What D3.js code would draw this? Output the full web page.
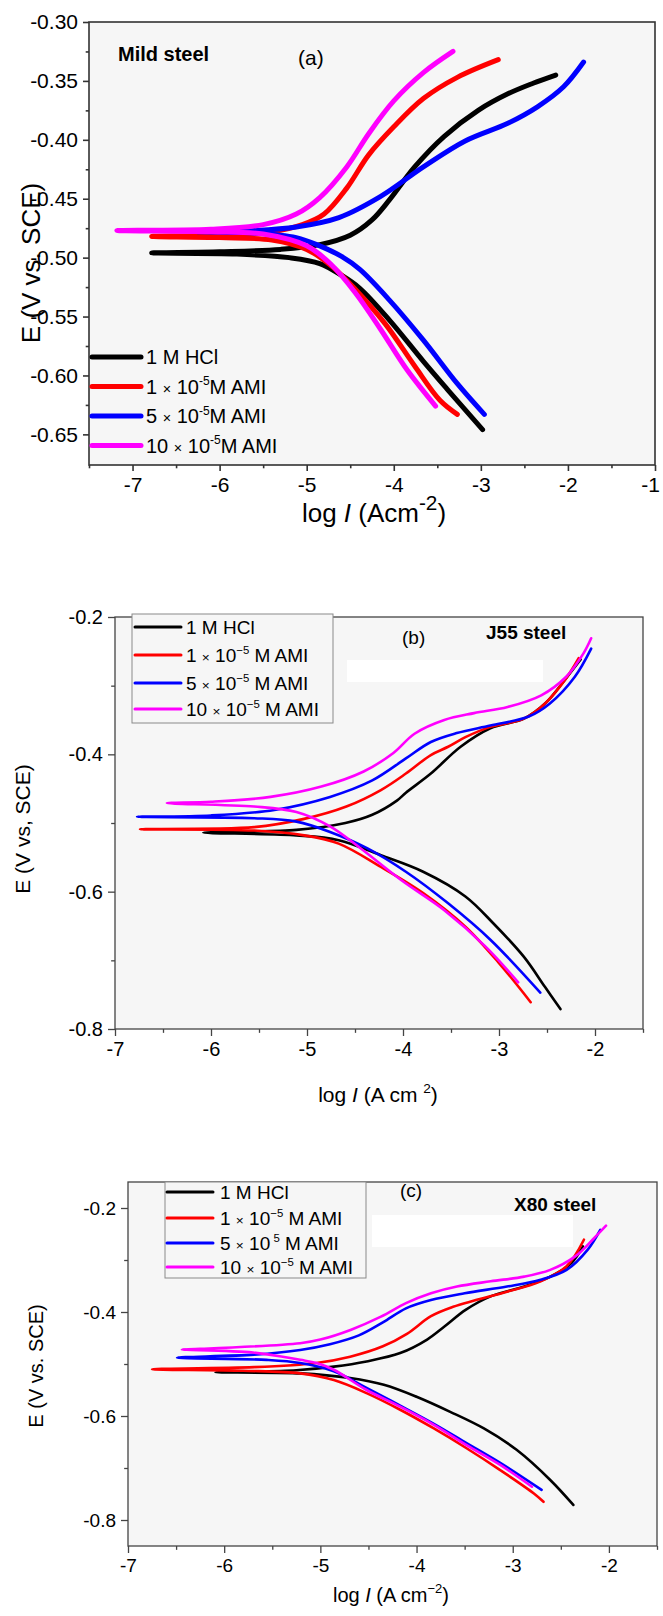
<!DOCTYPE html>
<html><head><meta charset="utf-8">
<script src="https://cdn.jsdelivr.net/npm/d3@7"></script>
<style>body{margin:0;background:#fff;} text{font-family:"Liberation Sans",Arial,sans-serif;fill:#000;}</style>
</head><body><svg id="chart" width="663" height="1616"></svg>
<script>
// ---------- data ----------
const seriesColors = ["#000000", "#ff0000", "#0000ff", "#ff00ff"];
// legend entries: [prefix, exponent, suffix] (null exponent = plain)
const legendA = [["1 M HCl", null, ""], ["1", "-5", "M AMI"], ["5", "-5", "M AMI"], ["10", "-5", "M AMI"]];
const legendB = [["1 M HCl", null, ""], ["1", "\u22125", "\u00a0M AMI"], ["5", "\u22125", "\u00a0M AMI"], ["10", "\u22125", "\u00a0M AMI"]];
const legendC = [["1 M HCl", null, ""], ["1", "\u22125", "\u00a0M AMI"], ["5", "\u00a05", "\u00a0M AMI"], ["10", "\u22125", "\u00a0M AMI"]];

// panel (a) Mild steel: points [log I, E] from cathodic end -> Ecorr -> anodic end
const a_HCl = [[-2.98,-0.646],[-3.37,-0.613],[-3.66,-0.588],[-4.05,-0.553],[-4.39,-0.526],[-4.6,-0.515],[-4.85,-0.505],[-5.2,-0.500],[-5.8,-0.497],[-6.78,-0.496],[-6.0,-0.495],[-5.3,-0.493],[-4.85,-0.489],[-4.5,-0.481],[-4.25,-0.468],[-4.05,-0.451],[-3.76,-0.423],[-3.42,-0.397],[-3.03,-0.375],[-2.69,-0.361],[-2.4,-0.352],[-2.14,-0.345]];
const a_AMI1 = [[-3.27,-0.633],[-3.47,-0.621],[-3.76,-0.592],[-4.10,-0.556],[-4.44,-0.527],[-4.70,-0.508],[-5.0,-0.493],[-5.4,-0.485],[-6.0,-0.483],[-6.78,-0.482],[-6.0,-0.481],[-5.4,-0.478],[-5.05,-0.472],[-4.8,-0.463],[-4.54,-0.441],[-4.29,-0.413],[-4.0,-0.389],[-3.66,-0.365],[-3.27,-0.347],[-2.8,-0.332]];
const a_AMI5 = [[-2.96,-0.633],[-3.27,-0.607],[-3.66,-0.570],[-4.05,-0.536],[-4.39,-0.510],[-4.6,-0.499],[-4.85,-0.490],[-5.12,-0.483],[-5.6,-0.479],[-6.25,-0.478],[-5.6,-0.477],[-5.12,-0.474],[-4.63,-0.466],[-4.15,-0.448],[-3.66,-0.423],[-3.18,-0.401],[-2.69,-0.386],[-2.35,-0.372],[-2.05,-0.355],[-1.82,-0.334]];
const a_AMI10 = [[-3.52,-0.626],[-3.85,-0.595],[-4.15,-0.561],[-4.44,-0.530],[-4.73,-0.505],[-5.0,-0.490],[-5.5,-0.480],[-6.1,-0.478],[-7.18,-0.477],[-6.1,-0.476],[-5.5,-0.472],[-5.12,-0.463],[-4.85,-0.449],[-4.54,-0.423],[-4.29,-0.395],[-4.0,-0.367],[-3.66,-0.343],[-3.32,-0.325]];

// panel (b) J55 steel
const b_HCl = [[-2.36,-0.771],[-2.52,-0.739],[-2.74,-0.695],[-3.06,-0.646],[-3.35,-0.607],[-3.79,-0.571],[-4.23,-0.547],[-4.67,-0.525],[-5.11,-0.518],[-6.08,-0.514],[-5.11,-0.510],[-4.6,-0.500],[-4.32,-0.488],[-4.06,-0.467],[-3.97,-0.456],[-3.71,-0.428],[-3.40,-0.389],[-3.09,-0.362],[-2.74,-0.348],[-2.52,-0.326],[-2.30,-0.289],[-2.15,-0.262]];
const b_AMI1 = [[-2.67,-0.761],[-3.0,-0.704],[-3.35,-0.651],[-3.79,-0.602],[-4.23,-0.564],[-4.67,-0.530],[-5.03,-0.518],[-5.55,-0.511],[-6.74,-0.509],[-5.55,-0.506],[-5.03,-0.494],[-4.59,-0.476],[-4.23,-0.452],[-3.97,-0.428],[-3.71,-0.401],[-3.53,-0.389],[-3.35,-0.375],[-3.09,-0.360],[-2.74,-0.348],[-2.52,-0.326],[-2.30,-0.289],[-2.17,-0.260]];
const b_AMI5 = [[-2.57,-0.747],[-3.09,-0.670],[-3.53,-0.617],[-3.97,-0.571],[-4.37,-0.537],[-4.76,-0.513],[-5.11,-0.498],[-5.55,-0.493],[-6.77,-0.491],[-6.0,-0.489],[-5.34,-0.481],[-4.76,-0.462],[-4.32,-0.438],[-3.97,-0.406],[-3.71,-0.382],[-3.44,-0.369],[-3.09,-0.358],[-2.69,-0.345],[-2.47,-0.326],[-2.21,-0.287],[-2.04,-0.246]];
const b_AMI10 = [[-2.80,-0.732],[-3.14,-0.680],[-3.57,-0.627],[-4.02,-0.583],[-4.46,-0.535],[-4.76,-0.505],[-5.11,-0.484],[-5.55,-0.476],[-6.46,-0.471],[-6.0,-0.469],[-5.38,-0.462],[-4.85,-0.447],[-4.41,-0.425],[-4.10,-0.398],[-3.88,-0.370],[-3.57,-0.350],[-3.26,-0.340],[-2.91,-0.331],[-2.56,-0.314],[-2.30,-0.287],[-2.12,-0.253],[-2.04,-0.231]];

// panel (c) X80 steel
const c_HCl = [[-2.37,-0.771],[-2.61,-0.723],[-2.96,-0.665],[-3.30,-0.624],[-3.65,-0.592],[-4.0,-0.563],[-4.34,-0.540],[-4.69,-0.527],[-5.21,-0.518],[-6.09,-0.516],[-5.25,-0.512],[-4.86,-0.505],[-4.52,-0.495],[-4.17,-0.479],[-3.89,-0.453],[-3.71,-0.428],[-3.49,-0.396],[-3.23,-0.370],[-2.88,-0.351],[-2.61,-0.332],[-2.39,-0.306],[-2.27,-0.274]];
const c_AMI1 = [[-2.68,-0.765],[-2.78,-0.749],[-3.13,-0.704],[-3.48,-0.662],[-3.82,-0.624],[-4.17,-0.588],[-4.52,-0.556],[-4.86,-0.531],[-5.21,-0.518],[-5.8,-0.513],[-6.75,-0.510],[-5.69,-0.506],[-5.04,-0.498],[-4.69,-0.486],[-4.35,-0.466],[-4.10,-0.442],[-3.85,-0.408],[-3.62,-0.390],[-3.40,-0.378],[-3.06,-0.361],[-2.71,-0.341],[-2.44,-0.312],[-2.26,-0.261]];
const c_AMI5 = [[-2.70,-0.742],[-3.13,-0.690],[-3.48,-0.652],[-3.82,-0.615],[-4.17,-0.580],[-4.52,-0.546],[-4.86,-0.514],[-5.21,-0.498],[-5.56,-0.492],[-6.49,-0.488],[-5.69,-0.482],[-5.21,-0.473],[-4.9,-0.462],[-4.6,-0.445],[-4.35,-0.420],[-4.11,-0.393],[-3.85,-0.377],[-3.50,-0.364],[-3.06,-0.351],[-2.71,-0.338],[-2.44,-0.319],[-2.22,-0.280],[-2.09,-0.242]];
const c_AMI10 = [[-2.80,-0.736],[-3.13,-0.694],[-3.48,-0.656],[-3.82,-0.617],[-4.17,-0.582],[-4.52,-0.550],[-4.86,-0.511],[-5.04,-0.498],[-5.21,-0.492],[-5.7,-0.478],[-6.44,-0.472],[-6.25,-0.471],[-5.21,-0.460],[-5.0,-0.453],[-4.68,-0.434],[-4.37,-0.409],[-4.11,-0.383],[-3.85,-0.364],[-3.58,-0.351],[-3.23,-0.341],[-2.88,-0.332],[-2.61,-0.319],[-2.35,-0.293],[-2.17,-0.261],[-2.03,-0.234]];

// tick values
const aXTicks = [-7, -6, -5, -4, -3, -2, -1];
const aXMinor = [-7.5, -6.5, -5.5, -4.5, -3.5, -2.5, -1.5];
const aYTicks = [-0.65, -0.60, -0.55, -0.50, -0.45, -0.40, -0.35, -0.30];
const aYMinor = [-0.625, -0.575, -0.525, -0.475, -0.425, -0.375, -0.325];
const bcXTicks = [-7, -6, -5, -4, -3, -2];
const bcXMinor = [-6.5, -5.5, -4.5, -3.5, -2.5, -1.5];
const bcYTicks = [-0.8, -0.6, -0.4, -0.2];
const bcYMinor = [-0.7, -0.5, -0.3];

// ---------- drawing ----------
const svg = d3.select("#chart");

function panel(cfg) {
  const g = svg.append("g");
  const x = d3.scaleLinear().domain(cfg.xDom).range([cfg.left, cfg.right]);
  const y = d3.scaleLinear().domain(cfg.yDom).range([cfg.bottom, cfg.top]);
  g.append("rect").attr("x", cfg.left).attr("y", cfg.top)
    .attr("width", cfg.right - cfg.left).attr("height", cfg.bottom - cfg.top)
    .attr("fill", "#f6f6f6").attr("stroke", "none");
  if (cfg.white) {
    g.append("rect").attr("x", cfg.white[0]).attr("y", cfg.white[1])
      .attr("width", cfg.white[2]).attr("height", cfg.white[3]).attr("fill", "#ffffff");
  }
  // axes
  const xAx = g.append("g").attr("transform", `translate(0,${cfg.bottom})`)
    .call(d3.axisBottom(x).tickValues(cfg.xTicks).tickSize(cfg.tick).tickSizeOuter(0).tickPadding(cfg.xPad).tickFormat(d => String(d)));
  const xMin = g.append("g").attr("transform", `translate(0,${cfg.bottom})`)
    .call(d3.axisBottom(x).tickValues(cfg.xMinor).tickSize(cfg.tick * 0.55).tickSizeOuter(0).tickFormat(""));
  const yAx = g.append("g").attr("transform", `translate(${cfg.left},0)`)
    .call(d3.axisLeft(y).tickValues(cfg.yTicks).tickSize(cfg.tick).tickSizeOuter(0).tickPadding(cfg.yPad).tickFormat(d => d.toFixed(cfg.yDec)));
  const yMin = g.append("g").attr("transform", `translate(${cfg.left},0)`)
    .call(d3.axisLeft(y).tickValues(cfg.yMinor).tickSize(cfg.tick * 0.55).tickSizeOuter(0).tickFormat(""));
  [xAx, xMin, yAx, yMin].forEach(a => {
    a.select(".domain").remove();
    a.selectAll("line").attr("stroke", cfg.frameColor).attr("stroke-width", cfg.frameW);
    a.selectAll("text").attr("font-size", cfg.tickFs).attr("fill", "#000")
      .attr("font-family", '"Liberation Sans", Arial, sans-serif');
  });
  // keep the last x label inside the page
  xAx.selectAll(".tick text").filter(d => x(d) > 645).attr("dx", -5);
  // curves
  const line = d3.line().x(d => x(d[0])).y(d => y(d[1])).curve(d3.curveCatmullRom.alpha(0.5));
  cfg.series.forEach((s, i) => {
    g.append("path").datum(s).attr("d", line).attr("fill", "none")
      .attr("stroke", seriesColors[i]).attr("stroke-width", cfg.lw)
      .attr("stroke-linecap", "round").attr("stroke-linejoin", "round");
  });
  // frame
  g.append("rect").attr("x", cfg.left).attr("y", cfg.top)
    .attr("width", cfg.right - cfg.left).attr("height", cfg.bottom - cfg.top)
    .attr("fill", "none").attr("stroke", cfg.frameColor).attr("stroke-width", cfg.frameW);
  // legend
  const L = cfg.legend;
  if (L.box) {
    g.append("rect").attr("x", L.box[0]).attr("y", L.box[1]).attr("width", L.box[2]).attr("height", L.box[3])
      .attr("fill", "#f6f6f6").attr("stroke", "#8a8a8a").attr("stroke-width", 1);
  }
  L.items.forEach((it, i) => {
    const yy = L.rows[i];
    g.append("line").attr("x1", L.x1).attr("x2", L.x2).attr("y1", yy).attr("y2", yy)
      .attr("stroke", seriesColors[i]).attr("stroke-width", L.lw).attr("stroke-linecap", "round");
    const t = g.append("text").attr("x", L.tx).attr("y", yy + L.fs * 0.36).attr("font-size", L.fs);
    if (it[1] === null) { t.text(it[0]); return; }
    t.append("tspan").text(it[0] + " ");
    t.append("tspan").attr("font-size", L.fs * 0.72).text("\u00d7");
    t.append("tspan").text(" 10");
    t.append("tspan").attr("font-size", L.fs * 0.6).attr("dy", -L.fs * 0.42).text(it[1]);
    t.append("tspan").attr("dy", L.fs * 0.42).text(it[2]);
  });
  // annotations
  cfg.notes.forEach(n => {
    g.append("text").attr("x", n.x).attr("y", n.y).attr("font-size", n.fs)
      .attr("font-weight", n.bold ? "bold" : "normal").text(n.t);
  });
  // y title
  g.append("text").attr("transform", `translate(${cfg.yTitle.x},${cfg.yTitle.y}) rotate(-90)`)
    .attr("text-anchor", "middle").attr("font-size", cfg.yTitle.fs).text(cfg.yTitle.t);
  // x title
  const xt = g.append("text").attr("x", cfg.xTitle.x).attr("y", cfg.xTitle.y)
    .attr("text-anchor", "middle").attr("font-size", cfg.xTitle.fs);
  xt.append("tspan").text("log ");
  xt.append("tspan").attr("font-style", "italic").text("I");
  xt.append("tspan").text(cfg.xTitle.mid);
  xt.append("tspan").attr("font-size", cfg.xTitle.fs * cfg.xTitle.supScale).attr("dy", -cfg.xTitle.fs * 0.45).text(cfg.xTitle.sup);
  xt.append("tspan").attr("dy", cfg.xTitle.fs * 0.45).text(")");
}

panel({
  xDom: [-7.5, -1], yDom: [-0.676, -0.30],
  left: 89, right: 655, top: 22, bottom: 465,
  xTicks: aXTicks, xMinor: aXMinor, yTicks: aYTicks, yMinor: aYMinor, yDec: 2,
  tick: 6, xPad: 6, yPad: 5, tickFs: 21, frameColor: "#333", frameW: 1.6, lw: 5,
  series: [a_HCl, a_AMI1, a_AMI5, a_AMI10],
  legend: { items: legendA, rows: [357, 386.5, 416, 445.5], x1: 92, x2: 141, tx: 146, fs: 20, lw: 5 },
  notes: [{ x: 118, y: 61, fs: 20, bold: true, t: "Mild steel" }, { x: 298, y: 65, fs: 21, t: "(a)" }],
  yTitle: { x: 40, y: 263, fs: 26, t: "E (V vs. SCE)" },
  xTitle: { x: 374, y: 522, fs: 26, mid: " (Acm", sup: "-2", supScale: 0.8 }
});

panel({
  xDom: [-7, -1.5], yDom: [-0.8, -0.2],
  left: 115, right: 643, top: 617, bottom: 1029,
  xTicks: bcXTicks, xMinor: bcXMinor, yTicks: bcYTicks, yMinor: bcYMinor, yDec: 1,
  tick: 7, xPad: 6, yPad: 5, tickFs: 20, frameColor: "#444", frameW: 1.3, lw: 2.6,
  white: [347, 660, 196, 22],
  series: [b_HCl, b_AMI1, b_AMI5, b_AMI10],
  legend: { box: [132, 614, 201, 109], items: legendB, rows: [627, 655, 683, 709], x1: 135, x2: 181, tx: 186, fs: 19, lw: 3 },
  notes: [{ x: 402, y: 644, fs: 19, t: "(b)" }, { x: 486, y: 639, fs: 19, bold: true, t: "J55 steel" }],
  yTitle: { x: 30, y: 829, fs: 21, t: "E (V vs, SCE)" },
  xTitle: { x: 378, y: 1102, fs: 21, mid: " (A cm\u00a0", sup: "2", supScale: 0.65 }
});

panel({
  xDom: [-7, -1.5], yDom: [-0.85, -0.15],
  left: 128, right: 657, top: 1182, bottom: 1546,
  xTicks: bcXTicks, xMinor: bcXMinor, yTicks: bcYTicks, yMinor: bcYMinor, yDec: 1,
  tick: 7, xPad: 6, yPad: 5, tickFs: 19, frameColor: "#444", frameW: 1.3, lw: 2.6,
  white: [372, 1215, 201, 32],
  series: [c_HCl, c_AMI1, c_AMI5, c_AMI10],
  legend: { box: [165, 1182, 201, 96], items: legendC, rows: [1192, 1218, 1243, 1267], x1: 167, x2: 213, tx: 220, fs: 19, lw: 3 },
  notes: [{ x: 400, y: 1197, fs: 19, t: "(c)" }, { x: 514, y: 1211, fs: 19, bold: true, t: "X80 steel" }],
  yTitle: { x: 43, y: 1366, fs: 20, t: "E (V vs. SCE)" },
  xTitle: { x: 391, y: 1602, fs: 20, mid: " (A cm", sup: "\u22122", supScale: 0.65 }
});
</script></body></html>
